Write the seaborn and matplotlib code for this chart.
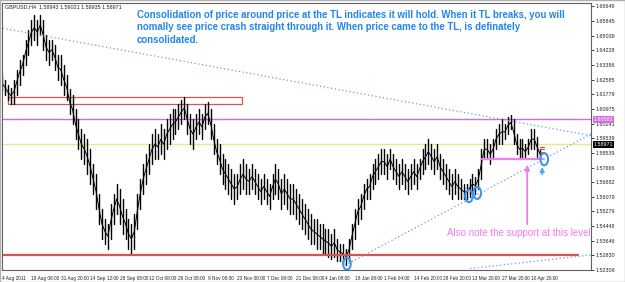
import matplotlib
matplotlib.use("Agg")
import matplotlib.pyplot as plt
from matplotlib.patches import Ellipse, Rectangle
import seaborn as sns
import pandas as pd

# ---------------- data ----------------
symbol_header = "GBPUSD,H4  1.58943 1.59021 1.58935 1.58971"

day_high = [1.6291, 1.6264, 1.6237, 1.6220, 1.6264, 1.6319, 1.6373, 1.6400, 1.6482, 1.6537,
            1.6591, 1.6618, 1.6591, 1.6618, 1.6591, 1.6509, 1.6482, 1.6482, 1.6455, 1.6400,
            1.6400, 1.6346, 1.6291, 1.6210, 1.6182, 1.6101, 1.6046, 1.5992, 1.5964, 1.5937,
            1.5883, 1.5801, 1.5746, 1.5637, 1.5556, 1.5501, 1.5474, 1.5583, 1.5637, 1.5692,
            1.5665, 1.5610, 1.5556, 1.5501, 1.5474, 1.5528, 1.5637, 1.5719, 1.5801, 1.5855,
            1.5910, 1.5964, 1.5992, 1.5964, 1.6019, 1.5992, 1.6046, 1.6073, 1.6101, 1.6101,
            1.6128, 1.6155, 1.6171, 1.6128, 1.6073, 1.6046, 1.6073, 1.6101, 1.6073, 1.6128,
            1.6139, 1.6101, 1.6019, 1.5937, 1.5910, 1.5855, 1.5828, 1.5801, 1.5774, 1.5746,
            1.5746, 1.5801, 1.5828, 1.5801, 1.5774, 1.5801, 1.5774, 1.5746, 1.5719, 1.5746,
            1.5719, 1.5692, 1.5746, 1.5801, 1.5774, 1.5719, 1.5746, 1.5719, 1.5692, 1.5692,
            1.5665, 1.5637, 1.5610, 1.5583, 1.5556, 1.5528, 1.5501, 1.5501, 1.5474, 1.5474,
            1.5447, 1.5447, 1.5419, 1.5447, 1.5392, 1.5365, 1.5365, 1.5338, 1.5392, 1.5474,
            1.5556, 1.5610, 1.5637, 1.5692, 1.5719, 1.5746, 1.5801, 1.5828, 1.5855, 1.5883,
            1.5883, 1.5855, 1.5883, 1.5855, 1.5828, 1.5801, 1.5828, 1.5801, 1.5774, 1.5801,
            1.5828, 1.5801, 1.5828, 1.5883, 1.5910, 1.5937, 1.5910, 1.5883, 1.5910, 1.5855,
            1.5828, 1.5801, 1.5774, 1.5746, 1.5774, 1.5746, 1.5719, 1.5692, 1.5692, 1.5719,
            1.5746, 1.5730, 1.5774, 1.5883, 1.5937, 1.5937, 1.5910, 1.5937, 1.5992, 1.6019,
            1.6046, 1.6019, 1.6057, 1.6068, 1.6046, 1.5964, 1.5937, 1.5937, 1.5910, 1.5937,
            1.5992, 1.5992, 1.5948, 1.5883]
day_low = [1.6199, 1.6182, 1.6155, 1.6133, 1.6128, 1.6182, 1.6237, 1.6291, 1.6346, 1.6400,
           1.6455, 1.6482, 1.6455, 1.6509, 1.6428, 1.6373, 1.6346, 1.6373, 1.6319, 1.6264,
           1.6237, 1.6182, 1.6155, 1.6073, 1.6019, 1.5937, 1.5883, 1.5828, 1.5801, 1.5746,
           1.5692, 1.5637, 1.5556, 1.5474, 1.5392, 1.5365, 1.5338, 1.5392, 1.5474, 1.5528,
           1.5474, 1.5419, 1.5392, 1.5338, 1.5310, 1.5338, 1.5447, 1.5556, 1.5637, 1.5692,
           1.5746, 1.5801, 1.5828, 1.5828, 1.5855, 1.5828, 1.5883, 1.5910, 1.5937, 1.5964,
           1.5992, 1.6019, 1.6046, 1.5964, 1.5910, 1.5883, 1.5937, 1.5964, 1.5937, 1.5992,
           1.6019, 1.5937, 1.5855, 1.5801, 1.5746, 1.5692, 1.5665, 1.5637, 1.5610, 1.5583,
           1.5610, 1.5637, 1.5665, 1.5637, 1.5637, 1.5665, 1.5637, 1.5610, 1.5583, 1.5610,
           1.5583, 1.5556, 1.5610, 1.5637, 1.5610, 1.5556, 1.5583, 1.5556, 1.5528, 1.5528,
           1.5501, 1.5474, 1.5447, 1.5419, 1.5392, 1.5365, 1.5365, 1.5338, 1.5338, 1.5310,
           1.5310, 1.5294, 1.5283, 1.5294, 1.5272, 1.5272, 1.5256, 1.5250, 1.5272, 1.5338,
           1.5392, 1.5474, 1.5501, 1.5556, 1.5610, 1.5610, 1.5665, 1.5692, 1.5719, 1.5746,
           1.5746, 1.5719, 1.5774, 1.5719, 1.5692, 1.5665, 1.5692, 1.5665, 1.5637, 1.5665,
           1.5692, 1.5665, 1.5719, 1.5746, 1.5774, 1.5801, 1.5774, 1.5746, 1.5774, 1.5719,
           1.5692, 1.5665, 1.5637, 1.5610, 1.5637, 1.5610, 1.5610, 1.5610, 1.5610, 1.5621,
           1.5637, 1.5637, 1.5665, 1.5719, 1.5828, 1.5828, 1.5801, 1.5828, 1.5883, 1.5910,
           1.5910, 1.5937, 1.5964, 1.5992, 1.5910, 1.5855, 1.5828, 1.5839, 1.5828, 1.5855,
           1.5883, 1.5883, 1.5839, 1.5828]

date_labels = ["4 Aug 2011", "18 Aug 08:00", "31 Aug 20:00", "14 Sep 12:00", "28 Sep 08:00",
               "12 Oct 08:00", "26 Oct 08:00", "9 Nov 08:00", "23 Nov 08:00", "7 Dec 08:00",
               "21 Dec 08:00", "4 Jan 08:00", "18 Jan 08:00", "1 Feb 04:00", "14 Feb 20:00",
               "28 Feb 20:00", "13 Mar 20:00", "27 Mar 20:00", "10 Apr 20:00"]
date_ticks = [0, 10, 20, 30, 40, 50, 60, 70, 80, 90, 100, 110, 120, 130, 140, 150, 160, 170, 180]

price_ticks = [1.66646, 1.65844, 1.65042, 1.64240, 1.63438, 1.62636, 1.61834, 1.61032,
               1.60230, 1.59428, 1.58626, 1.57824, 1.57022, 1.56220, 1.55418, 1.54616,
               1.53814, 1.53012, 1.52210]
price_labels = ["1.66646", "1.65845", "1.65039", "1.64228", "1.63386", "1.62585", "1.61779",
                "1.60975", "1.60241", "1.59539", "1.58539", "1.57666", "1.56882", "1.56079",
                "1.55279", "1.54448", "1.53646", "1.52830", "1.52309"]

purple_level, purple_label = 1.6046, "1.60582"
current_level, current_label = 1.5910, "1.58971"
support_level, support_days = 1.5828, (163.3, 184.0)
red_box_days, red_box_prices = (2.0, 81.6), (1.6128, 1.6171)
red_floor_level, red_floor_days = 1.5305, (0.0, 195.9)

trend_down = ([-1.0, 201.0], [1.6549, 1.5955])
trend_up = ([116.7, 201.0], [1.5247, 1.5972])
trend_low = ([159.2, 201.0], [1.5229, 1.5305])

circle_days = [117.3, 158.8, 161.6, 184.4]
circle_prices = [1.5256, 1.5626, 1.5643, 1.5828]

pink_arrow = (178.6, 1.5457, 1.5812)
blue_arrow = (183.7, 1.5730, 1.5801)
order_marks = [1.5893, 1.5883, 1.5866]

note_main = ("Consolidation of price around price at the TL indicates it will hold. When it TL breaks, you will\n"
             "nomally see price crash straight through it. When price came to the TL, is definately\n"
             "consolidated.")
note_support = "Also note the support at this level"

# ---------------- figure ----------------
sns.set_style("white")
plt.rcParams['font.family'] = ['Liberation Sans', 'DejaVu Sans']

W, H = 625, 282
fig = plt.figure(figsize=(W / 100, H / 100), dpi=100)
fig.patch.set_facecolor("white")
ax = fig.add_axes([2 / W, 1 - 270 / H, 589 / W, 267 / H])
ax.set_facecolor("white")

# price bars via seaborn (one vertical segment per day)
days = list(range(len(day_high)))
long = pd.DataFrame({
    "day": days + days,
    "price": day_high + day_low,
})
sns.lineplot(data=long, x="day", y="price", units="day", estimator=None,
             color="black", lw=1.0, ax=ax, legend=False)
closes = pd.DataFrame({"day": days, "price": [(h + l) / 2 for h, l in zip(day_high, day_low)]})
sns.lineplot(data=closes, x="day", y="price", color="black", lw=0.7, ax=ax, legend=False)

# horizontal levels
ax.axhline(purple_level, color="#cf6fdf", lw=1.0, zorder=1)
ax.axhline(current_level, color="#eee48a", lw=1.0, zorder=1)
ax.plot(red_floor_days, [red_floor_level] * 2, color="#d9534f", lw=1.6)
ax.add_patch(Rectangle((red_box_days[0], red_box_prices[0]), red_box_days[1] - red_box_days[0],
                       red_box_prices[1] - red_box_prices[0], fill=False,
                       edgecolor="#d9534f", lw=0.9))
ax.plot(support_days, [support_level] * 2, color="#f07cf0", lw=1.6)

# trend lines
for xs, ys in (trend_down, trend_up, trend_low):
    ax.plot(xs, ys, color="#6a9fd8", lw=0.9, ls=(0, (1, 2)))

# circles
for d, p in zip(circle_days, circle_prices):
    ax.add_patch(Ellipse((d, p), 2.6, 0.0066, fill=False, edgecolor="#3c96ee", lw=1.5, zorder=5))

# arrows
ax.annotate("", xy=(pink_arrow[0], pink_arrow[2]), xytext=(pink_arrow[0], pink_arrow[1]),
            arrowprops=dict(arrowstyle="-|>", color="#f07cf0", lw=1.3, mutation_scale=7))
ax.annotate("", xy=(blue_arrow[0], blue_arrow[2]), xytext=(blue_arrow[0], blue_arrow[1]),
            arrowprops=dict(arrowstyle="-|>", color="#55a6f5", lw=1.3, mutation_scale=6))
for p in order_marks:
    ax.plot([182.9, 184.3], [p, p], color="#e04040", lw=0.8)

# axes
ax.set_xlim(0, 200.3)
ax.set_ylim(1.52285, 1.66837)
ax.set_xlabel("")
ax.set_ylabel("")
ax.yaxis.tick_right()
ax.set_yticks(price_ticks)
ax.set_yticklabels(price_labels)
ax.set_xticks(date_ticks)
ax.set_xticklabels(date_labels, ha="left")
ax.tick_params(axis="both", labelsize=3.9, colors="#222222", length=2.5, width=0.6, pad=1)
ax.tick_params(axis="x", labelsize=3.4, pad=1.5)
for s in ax.spines.values():
    s.set_color("#606060")
    s.set_linewidth(0.8)
    s.set_visible(True)

# value boxes on the right scale
ax.text(1.004, purple_level, purple_label, transform=ax.get_yaxis_transform(), fontsize=3.9,
        color="white", va="center", ha="left",
        bbox=dict(boxstyle="square,pad=0.15", fc="#cf6fdf", ec="none"))
ax.text(1.004, current_level, current_label, transform=ax.get_yaxis_transform(), fontsize=3.9,
        color="white", va="center", ha="left",
        bbox=dict(boxstyle="square,pad=0.15", fc="black", ec="none"))

# texts
fig.text(5 / W, 1 - 7 / H, symbol_header, fontsize=3.9, color="#222222", va="center", ha="left")
fig.text(137 / W, 1 - 10 / H, note_main, fontsize=6.95, fontweight="bold", color="#1f86f0",
         va="top", ha="left", linespacing=1.3)
fig.text(447 / W, 1 - 233 / H, note_support, fontsize=7.0, color="#f07cf0", va="center", ha="left")

# outer frame
fig.add_artist(Rectangle((0, 0), 1, 1, transform=fig.transFigure, fill=False,
                         edgecolor="#b0b0b0", lw=1.0))

fig.savefig("out.png", dpi=100, facecolor="white")
